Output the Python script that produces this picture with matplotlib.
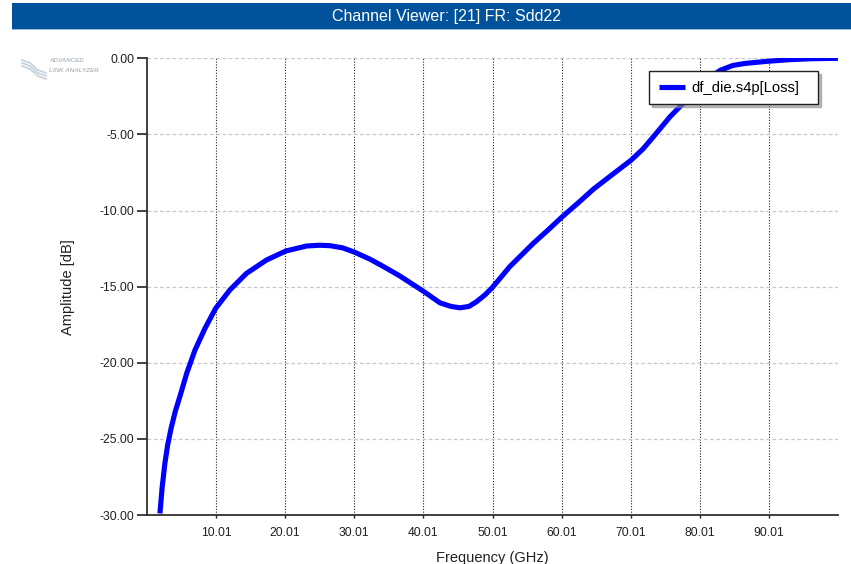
import numpy as np
import matplotlib
matplotlib.use("Agg")
import matplotlib.pyplot as plt
from matplotlib.patches import Rectangle
from matplotlib.lines import Line2D

# Sdd22 loss trace (frequency in GHz, amplitude in dB)
freq_ghz = [1.88, 2.2, 2.6, 3.0, 3.5, 4.1, 4.78, 5.75, 6.95, 8.4, 9.94,
            12.0, 14.4, 17.3, 20.1, 23.1, 25.0, 26.5, 28.3, 29.96, 32.3,
            34.7, 36.6, 38.3, 39.9, 42.4, 44.0, 45.3, 46.6, 47.7, 48.9,
            50.0, 51.2, 52.5, 55.9, 58.0, 60.1, 62.7, 64.6, 67.4, 70.1,
            71.8, 73.3, 75.7, 77.6, 79.5, 81.5, 83.0, 84.8, 86.5, 89.7,
            93.0, 96.0, 100.0]
amp_db = [-29.9, -28.2, -26.6, -25.4, -24.3, -23.2, -22.2, -20.7, -19.17,
          -17.74, -16.43, -15.22, -14.13, -13.25, -12.66, -12.33, -12.28,
          -12.31, -12.45, -12.72, -13.2, -13.8, -14.3, -14.8, -15.27,
          -16.06, -16.3, -16.39, -16.3, -15.99, -15.55, -15.05, -14.4,
          -13.69, -12.16, -11.3, -10.41, -9.38, -8.6, -7.62, -6.68,
          -5.95, -5.15, -3.84, -2.96, -2.08, -1.25, -0.78, -0.47, -0.34,
          -0.2, -0.09, -0.03, 0.0]

x_ticks = [10.01, 20.01, 30.01, 40.01, 50.01, 60.01, 70.01, 80.01, 90.01]
y_ticks = [0, -5, -10, -15, -20, -25, -30]
series_name = "df_die.s4p[Loss]"
title = "Channel Viewer: [21] FR: Sdd22"

plt.rcParams["font.family"] = ["Liberation Sans", "DejaVu Sans"]

fig = plt.figure(figsize=(8.51, 5.64), dpi=100, facecolor="white")

# header bar
fig.patches.append(Rectangle((12 / 851, 1 - 29 / 564), 1 - 12 / 851, 26 / 564,
                             transform=fig.transFigure, facecolor="#00529b",
                             edgecolor="none"))
fig.patches.append(Rectangle((12 / 851, 1 - 30 / 564), 1 - 12 / 851, 1.2 / 564,
                             transform=fig.transFigure, facecolor="#9db8d4",
                             edgecolor="none"))
fig.text(446 / 851, 1 - 16 / 564, title, color="white", fontsize=11.5,
         ha="center", va="center")

# small watermark logo
for k in range(3):
    xs = np.array([22, 30, 38, 46]) / 851
    ys = 1 - (np.array([60, 63, 70, 73]) + k * 3) / 564
    fig.add_artist(Line2D(xs, ys, color="#c4d2dc", lw=1.2,
                          transform=fig.transFigure))
fig.text(49 / 851, 1 - 61 / 564, "ADVANCED", color="#b4bcc4", fontsize=4.5,
         style="italic", weight="bold", va="center")
fig.text(49 / 851, 1 - 71 / 564, "LINK ANALYZER", color="#b4bcc4", fontsize=4.5,
         style="italic", weight="bold", va="center")

ax = fig.add_axes([147 / 851, 1 - 515 / 564, 691 / 851, 456.7 / 564])
ax.set_facecolor("white")

ax.plot(freq_ghz, amp_db, color="#0000ff", lw=3.7, solid_joinstyle="round",
        solid_capstyle="butt", label=series_name, zorder=3)

ax.set_xlim(0.01, 100.01)
ax.set_ylim(-30, 0)
ax.set_xticks(x_ticks)
ax.set_xticklabels([f"{v:.2f}" for v in x_ticks])
ax.set_yticks(y_ticks)
ax.set_yticklabels([f"{v:.2f}" for v in y_ticks])

ax.tick_params(axis="x", length=2.5, width=1, pad=6, labelsize=8.7,
               colors="#202020", direction="out")
ax.tick_params(axis="y", length=7, width=1.2, pad=2, labelsize=8.7,
               colors="#202020", direction="out")

for s in ("top", "right"):
    ax.spines[s].set_visible(False)
for s in ("left", "bottom"):
    ax.spines[s].set_color("#303030")
    ax.spines[s].set_linewidth(1.3)

ax.grid(axis="x", color="#202020", lw=0.8, linestyle=(0, (1, 1.5)))
ax.grid(axis="y", color="#c8c8c8", lw=0.9, linestyle=(0, (3, 2)))
ax.set_axisbelow(True)

ax.set_xlabel("Frequency (GHz)", fontsize=10.5, color="#202020")
ax.set_ylabel("Amplitude [dB]", fontsize=10.5, color="#202020")
ax.xaxis.set_label_coords(0.5, -0.079)
ax.yaxis.set_label_coords(-0.104, 0.5)

# legend box stretched to a fixed width in axes coordinates
leg = ax.legend(loc="upper left", bbox_to_anchor=(0.7265, 0.972, 0.2446, 0.0),
                mode="expand", borderaxespad=0, fontsize=10.7, frameon=True,
                fancybox=False, shadow={"color": "0.55", "alpha": 0.6},
                handlelength=1.75, handletextpad=0.45, borderpad=0.65)
leg.get_frame().set_edgecolor("#202020")
leg.get_frame().set_linewidth(1.0)
leg.get_frame().set_alpha(1)

fig.savefig("out.png", dpi=100, facecolor="white")
